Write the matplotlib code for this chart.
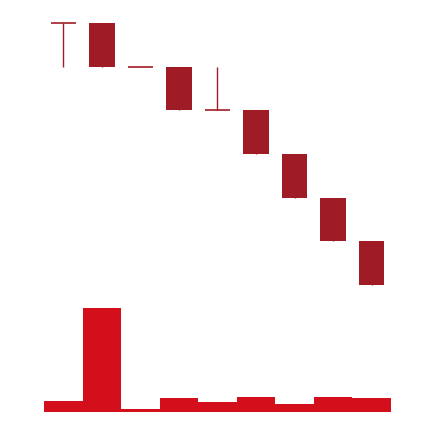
import numpy as np
import matplotlib
matplotlib.use("Agg")
import matplotlib.pyplot as plt

# candle data
opens = [100, 100, 99, 99, 98, 98, 97, 96, 95]
highs = [100, 100, 99, 99, 99, 98, 97, 96, 95]
lows = [99, 99, 99, 98, 98, 97, 96, 95, 94]
closes = [100, 99, 99, 98, 98, 97, 96, 95, 94]
volumes = [1100, 10400, 250, 1400, 950, 1500, 770, 1500, 1400]

candle_color = "#9f1c26"
volume_color = "#d20f1a"

W, H = 434, 422
fig = plt.figure(figsize=(W / 100, H / 100), dpi=100)

x = np.arange(len(opens))
left = 44 / W
width = 347 / W

# price panel
ax = fig.add_axes([left, 1 - 285 / H, width, 262 / H])
ax.set_xlim(-0.5, len(opens) - 0.5)
ax.set_ylim(94, 100)
ax.axis("off")

body_w = 0.66
for i in x:
    o, h, l, c = opens[i], highs[i], lows[i], closes[i]
    ax.vlines(i, l, h, color=candle_color, lw=1.0, clip_on=False)
    if o == c:
        ax.hlines(o, i - body_w / 2, i + body_w / 2, color=candle_color,
                  lw=1.2, clip_on=False)
    else:
        ax.bar(i, abs(c - o), bottom=min(o, c), width=body_w,
               color=candle_color, edgecolor="none", clip_on=False)

# volume panel
vax = fig.add_axes([left, 1 - 411.7 / H, width, 103.7 / H])
vax.set_xlim(-0.5, len(opens) - 0.5)
vax.set_ylim(0, max(volumes))
vax.bar(x, volumes, width=1.0, color=volume_color, edgecolor="none")
vax.axis("off")

fig.savefig("out.png", dpi=100)
